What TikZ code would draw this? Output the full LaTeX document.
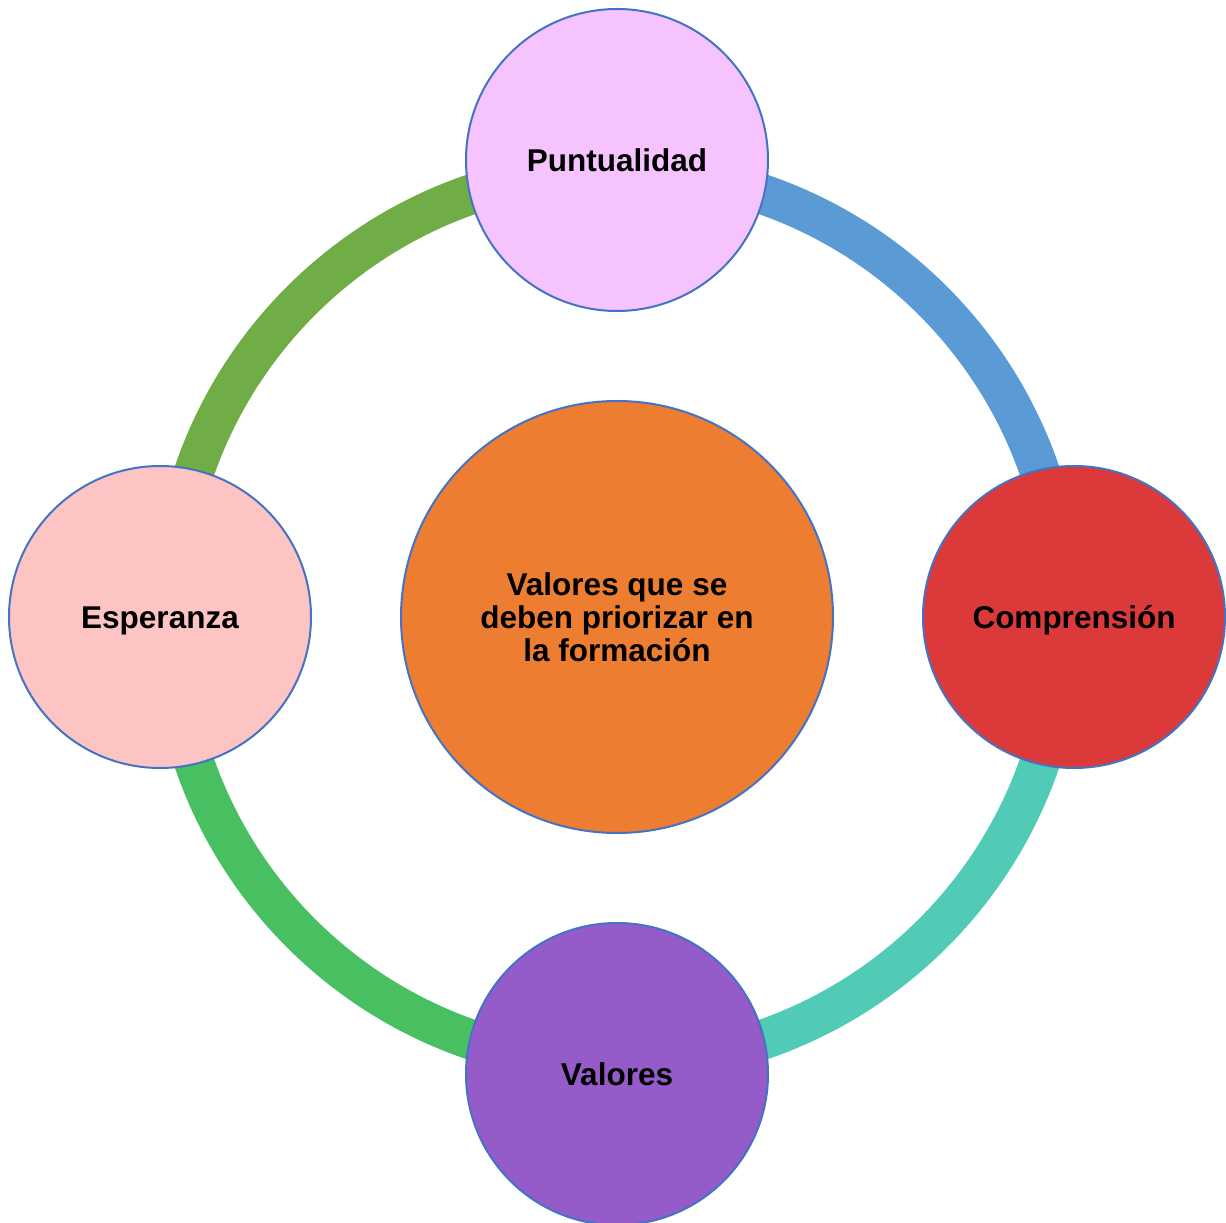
\documentclass[tikz,border=0pt]{standalone}
\usepackage{fontspec}
\setmainfont{Liberation Sans}
\definecolor{bordc}{HTML}{4472C4}
\definecolor{ringTR}{HTML}{5B9BD5}
\definecolor{ringTL}{HTML}{70AD47}
\definecolor{ringBL}{HTML}{48C062}
\definecolor{ringBR}{HTML}{52CBB6}
\definecolor{fillTop}{HTML}{F5C3FD}
\definecolor{fillRight}{HTML}{DC3A3A}
\definecolor{fillBottom}{HTML}{955BC9}
\definecolor{fillLeft}{HTML}{FDC4C4}
\definecolor{fillCenter}{HTML}{ED7D31}
\begin{document}
\begin{tikzpicture}[x=0.5pt,y=0.5pt,
  bub/.style={circle, draw=bordc, line width=1pt, minimum size=151pt, inner sep=0pt,
    font=\bfseries\fontsize{15.75}{16.5}\selectfont, text height=11.2pt, text depth=0pt},
  hub/.style={circle, draw=bordc, line width=1pt, minimum size=216pt, inner sep=0pt,
    align=center, font=\bfseries\fontsize{15.75}{16.5}\selectfont},
  ringseg/.style={line width=20pt}]
\useasboundingbox (0,0) rectangle (1226,1222);
\coordinate (o) at (617,605);
\draw[ringseg, ringTR] ([shift={(0:223.5pt)}]o) arc[start angle=0, end angle=90, radius=223.5pt];
\draw[ringseg, ringTL] ([shift={(90:223.5pt)}]o) arc[start angle=90, end angle=180, radius=223.5pt];
\draw[ringseg, ringBL] ([shift={(180:223.5pt)}]o) arc[start angle=180, end angle=270, radius=223.5pt];
\draw[ringseg, ringBR] ([shift={(270:223.5pt)}]o) arc[start angle=270, end angle=360, radius=223.5pt];
\node[hub, fill=fillCenter] (c) at (o) {Valores que se\\deben priorizar en\\la formación};
\node[bub, fill=fillTop] (top) at (617,1062) {Puntualidad};
\node[bub, fill=fillRight] (right) at (1074,605) {Comprensión};
\node[bub, fill=fillBottom] (bottom) at (617,148) {Valores};
\node[bub, fill=fillLeft] (left) at (160,605) {Esperanza};
\end{tikzpicture}
\end{document}
